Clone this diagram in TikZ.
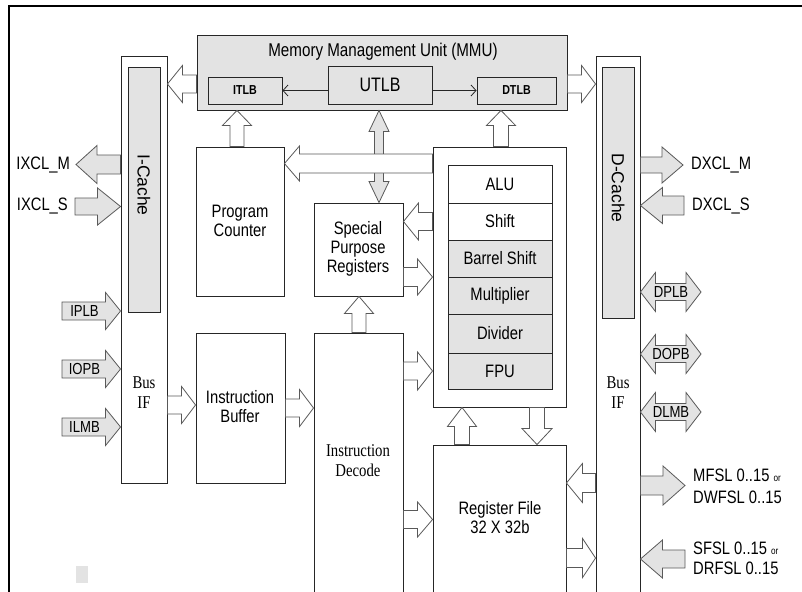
\documentclass[tikz,border=0pt]{standalone}
\usepackage{fontspec}
\setmainfont[FakeStretch=0.82]{Liberation Sans}
\newfontfamily\rotsans{Liberation Sans}
\newfontfamily\narrowserif[FakeStretch=0.82]{Liberation Serif}
\usetikzlibrary{calc,fit,arrows.meta}
\definecolor{boxgray}{HTML}{E3E3E3}
\newcommand\fs[2]{\fontsize{#1}{#2}\selectfont}
% block arrow: style, start, tip, shaft half, head half, head length
\newcommand\blockarrow[6]{%
  \coordinate (ba-s) at #2; \coordinate (ba-t) at #3;
  \coordinate (ba-b) at ($(ba-t)!#6!(ba-s)$);
  \draw[#1] ($(ba-s)!#4!90:(ba-t)$) -- ($(ba-b)!#4!90:(ba-t)$) -- ($(ba-b)!#5!90:(ba-t)$) -- (ba-t)
    -- ($(ba-b)!#5!-90:(ba-t)$) -- ($(ba-b)!#4!-90:(ba-t)$) -- ($(ba-s)!#4!-90:(ba-t)$) -- cycle;}
% double block arrow: style, tipA, tipB, shaft half, head half, head length
\newcommand\dblarrow[6]{%
  \coordinate (da-a) at #2; \coordinate (da-c) at #3;
  \coordinate (da-b1) at ($(da-a)!#6!(da-c)$); \coordinate (da-b2) at ($(da-c)!#6!(da-a)$);
  \draw[#1] (da-a) -- ($(da-b1)!#5!90:(da-c)$) -- ($(da-b1)!#4!90:(da-c)$) -- ($(da-b2)!#4!-90:(da-a)$)
    -- ($(da-b2)!#5!-90:(da-a)$) -- (da-c) -- ($(da-b2)!#5!90:(da-a)$) -- ($(da-b2)!#4!90:(da-a)$)
    -- ($(da-b1)!#4!-90:(da-c)$) -- ($(da-b1)!#5!-90:(da-c)$) -- cycle;}
\begin{document}
\begin{tikzpicture}[x=1pt,y=-1pt,
  box/.style={draw=black!85, line width=0.9pt, inner sep=0pt, fill=white},
  gbox/.style={box, fill=boxgray},
  harr/.style={draw=black!65, line width=0.8pt, fill=white, line join=miter},
  garr/.style={harr, fill=boxgray},
  txt/.style={inner sep=0pt, font=\fs{18}{19}, align=center},
  sertxt/.style={inner sep=0pt, font=\narrowserif\fs{18}{20}, align=center},
  rottxt/.style={inner sep=0pt, font=\rotsans\fs{17.5}{20}, rotate=-90},
  small/.style={inner sep=0pt, font=\fs{16}{17}},
  tlbtxt/.style={inner sep=0pt, font=\bfseries\fs{13}{14}},
  thinarr/.style={draw=black!85, line width=0.8pt, -{Straight Barb[length=5pt,width=11pt]}},
]
\useasboundingbox (0,0) rectangle (802,591);
% frame
\draw[line width=2.5pt, black] (812,6) -- (9,6) -- (9,600);
\fill[boxgray] (76,566) rectangle (88,583);

% caches / bus interfaces
\node[box, fit={(121,56) (167,483)}] (busI) {};
\node[gbox, fit={(128,67) (160,312)}] (icache) {};
\node[rottxt] (icache-t) at (144,185) {I-Cache};
\node[sertxt] (busI-t) at (144,393) {Bus\\IF};
\node[box, fit={(596,56) (640,600)}] (busD) {};
\node[gbox, fit={(602,67) (634,318)}] (dcache) {};
\node[rottxt] (dcache-t) at (618,188) {D-Cache};
\node[sertxt] (busD-t) at (618,393) {Bus\\IF};

% MMU
\node[gbox, fit={(197,35) (567,110)}] (mmu) {};
\node[txt, font=\fs{18.5}{20}] (mmu-t) at (383,52) {Memory Management Unit (MMU)};
\node[gbox, fit={(208,77) (282,104)}] (itlb) {};
\node[tlbtxt] (itlb-t) at (itlb.center) {ITLB};
\node[gbox, fit={(328,66) (432,104)}] (utlb) {};
\node[txt, font=\fs{19.5}{20}] (utlb-t) at (380,85) {UTLB};
\node[gbox, fit={(477,77) (556,104)}] (dtlb) {};
\node[tlbtxt] (dtlb-t) at (dtlb.center) {DTLB};
\draw[thinarr] (utlb.west |- 0,90.5) -- (itlb.east |- 0,90.5);
\draw[thinarr] (utlb.east |- 0,90.5) -- (dtlb.west |- 0,90.5);

% core boxes
\node[box, fit={(196,147) (284,296)}] (pc) {};
\node[txt, font=\fs{18}{18.5}] (pc-t) at (240,221) {Program\\Counter};
\node[box, fit={(314,203) (403,296)}] (spr) {};
\node[txt] (spr-t) at (358,249) {Special\\Purpose\\Registers};
\node[box, fit={(196,333) (285,483)}] (ib) {};
\node[txt] (ib-t) at (240,407) {Instruction\\Buffer};
\node[box, fit={(314,333) (403,600)}] (id) {};
\node[sertxt] (id-t) at (358,461) {Instruction\\Decode};
\node[box, fit={(433,445) (566,600)}] (rf) {};
\node[txt] (rf-t) at (500,518) {Register File\\32 X 32b};

% execution units
\node[box, fit={(433,147) (566,407)}] (exu) {};
\node[box, fit={(448,165) (552,203)}] (alu) {};
\node[box, fit={(448,203) (552,240)}] (shift) {};
\node[gbox, fit={(448,240) (552,277)}] (barrel) {};
\node[gbox, fit={(448,277) (552,314)}] (mult) {};
\node[gbox, fit={(448,314) (552,353)}] (div) {};
\node[gbox, fit={(448,353) (552,389)}] (fpu) {};
\node[txt] (alu-t) at (alu.center) {ALU};
\node[txt] (shift-t) at (shift.center) {Shift};
\node[txt] (barrel-t) at (barrel.center) {Barrel Shift};
\node[txt] (mult-t) at (mult.center) {Multiplier};
\node[txt] (div-t) at (div.center) {Divider};
\node[txt] (fpu-t) at (fpu.center) {FPU};

% internal block arrows
\blockarrow{harr}{(mmu.west |- 0,84)}{(busI.east |- 0,84)}{9pt}{18.5pt}{15pt}
\blockarrow{harr}{(mmu.east |- 0,84)}{(busD.west |- 0,84)}{9pt}{18.5pt}{14pt}
\blockarrow{harr}{(pc.north -| 237,0)}{(mmu.south -| 237,0)}{7pt}{14.5pt}{15pt}
\blockarrow{harr}{(exu.north -| 501,0)}{(mmu.south -| 501,0)}{7.5pt}{14.5pt}{15pt}
\dblarrow{garr}{(mmu.south -| 379,0)}{(spr.north -| 379,0)}{4.5pt}{10pt}{21pt}
\blockarrow{harr}{(exu.west |- 0,163.5)}{(pc.east |- 0,163.5)}{9.5pt}{17.5pt}{15pt}
\blockarrow{harr}{(exu.west |- 0,221.5)}{(spr.east |- 0,221.5)}{9pt}{18.5pt}{15pt}
\blockarrow{harr}{(spr.east |- 0,277)}{(exu.west |- 0,277)}{9.5pt}{18pt}{15pt}
\blockarrow{harr}{(id.north -| 359,0)}{(spr.south -| 359,0)}{7pt}{14.5pt}{17pt}
\blockarrow{harr}{(busI.east |- 0,405)}{(ib.west |- 0,405)}{9pt}{18.5pt}{14pt}
\blockarrow{harr}{(ib.east |- 0,408)}{(id.west |- 0,408)}{9pt}{18.5pt}{14pt}
\blockarrow{harr}{(id.east |- 0,371)}{(exu.west |- 0,371)}{9pt}{19pt}{15pt}
\blockarrow{harr}{(id.east |- 0,519.5)}{(rf.west |- 0,519.5)}{9pt}{17.5pt}{15pt}
\blockarrow{harr}{(rf.north -| 462,0)}{(exu.south -| 462,0)}{7.5pt}{14.5pt}{19pt}
\blockarrow{harr}{(exu.south -| 537,0)}{(rf.north -| 537,0)}{7.5pt}{15pt}{16pt}
\blockarrow{harr}{(busD.west |- 0,483)}{(rf.east |- 0,483)}{9.5pt}{19.5pt}{16pt}
\blockarrow{harr}{(rf.east |- 0,558)}{(busD.west |- 0,558)}{9.5pt}{19.5pt}{13pt}

% external ports, instruction side
\coordinate (ixclm-tip) at (76,164.5);
\coordinate (ixcls-end) at (75,206.5);
\coordinate (iplb-end) at (62,311);
\coordinate (iopb-end) at (62,369);
\coordinate (ilmb-end) at (62,427);
\blockarrow{garr}{(busI.west |- ixclm-tip)}{(ixclm-tip)}{9.5pt}{19pt}{21pt}
\blockarrow{garr}{(ixcls-end)}{(busI.west |- ixcls-end)}{8.5pt}{18.5pt}{23pt}
\blockarrow{garr}{(iplb-end)}{(busI.west |- iplb-end)}{9pt}{18.5pt}{15pt}
\blockarrow{garr}{(iopb-end)}{(busI.west |- iopb-end)}{9pt}{18.5pt}{15pt}
\blockarrow{garr}{(ilmb-end)}{(busI.west |- ilmb-end)}{9pt}{18.5pt}{15pt}
\node[txt, anchor=east] (ixclm-t) at (70,165) {IXCL\_M};
\node[txt, anchor=east] (ixcls-t) at (68,206) {IXCL\_S};
\node[small] (iplb-t) at (84.5,311) {IPLB};
\node[small] (iopb-t) at (84.5,369) {IOPB};
\node[small] (ilmb-t) at (84.5,427) {ILMB};

% external ports, data side
\coordinate (dxclm-tip) at (683,165);
\coordinate (dxcls-end) at (684,205.5);
\coordinate (dplb-tip) at (701,292);
\coordinate (dopb-tip) at (701,354);
\coordinate (dlmb-tip) at (701,412);
\coordinate (mfsl-tip) at (685,485.5);
\coordinate (sfsl-end) at (685,559);
\blockarrow{garr}{(busD.east |- dxclm-tip)}{(dxclm-tip)}{8pt}{18pt}{21pt}
\blockarrow{garr}{(dxcls-end)}{(busD.east |- dxcls-end)}{9.5pt}{18pt}{22pt}
\dblarrow{garr}{(busD.east |- dplb-tip)}{(dplb-tip)}{8.5pt}{19.5pt}{15pt}
\dblarrow{garr}{(busD.east |- dopb-tip)}{(dopb-tip)}{8.5pt}{19.5pt}{15pt}
\dblarrow{garr}{(busD.east |- dlmb-tip)}{(dlmb-tip)}{8.5pt}{19.5pt}{15pt}
\blockarrow{garr}{(busD.east |- mfsl-tip)}{(mfsl-tip)}{9.5pt}{19.5pt}{22pt}
\blockarrow{garr}{(sfsl-end)}{(busD.east |- sfsl-end)}{9pt}{19pt}{22pt}
\node[txt, anchor=west] (dxclm-t) at (691,165) {DXCL\_M};
\node[txt, anchor=west] (dxcls-t) at (692,206) {DXCL\_S};
\node[small] (dplb-t) at (671,292) {DPLB};
\node[small] (dopb-t) at (671,354) {DOPB};
\node[small] (dlmb-t) at (671,412) {DLMB};
\node[txt, anchor=west, align=left, font=\fs{18}{22}] (mfsl-t) at (693,486) {MFSL 0..15 {\fs{10}{12}or}\\DWFSL 0..15};
\node[txt, anchor=west, align=left, font=\fs{18}{20}] (sfsl-t) at (693,558) {SFSL 0..15 {\fs{10}{12}or}\\DRFSL 0..15};
\end{tikzpicture}
\end{document}
